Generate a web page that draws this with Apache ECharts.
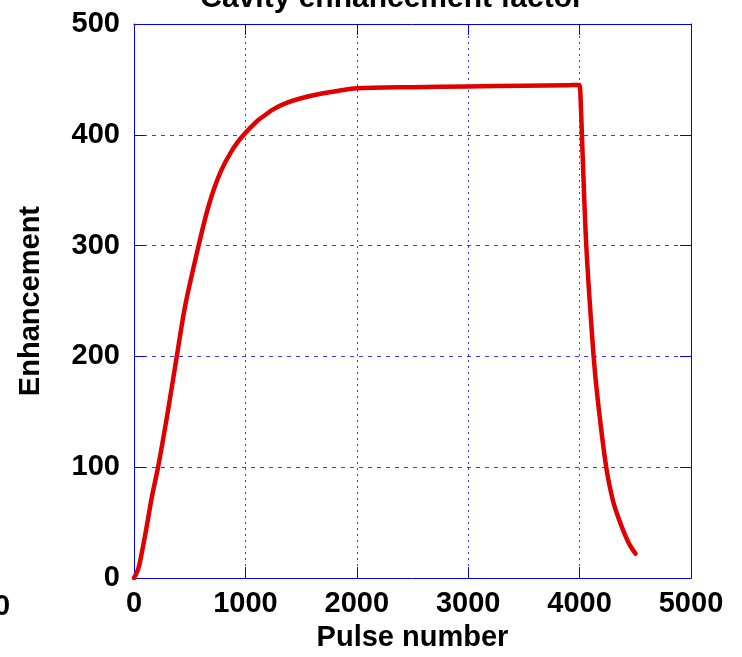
<!DOCTYPE html>
<html>
<head>
<meta charset="utf-8">
<script src="https://cdn.jsdelivr.net/npm/echarts@6/dist/echarts.min.js"></script>
<style>
  html, body { margin: 0; padding: 0; background: #fff; }
  #chart { width: 742px; height: 657px; }
</style>
</head>
<body>
<div id="chart"></div>
<script>
// pulse number vs enhancement
var pulses = [0, 40, 80, 120, 160, 216, 300, 384, 460, 580, 670, 775, 880, 985,
  1100, 1165, 1250, 1375, 1500, 1675, 1850, 2000, 2500, 3000, 3500, 3900, 3990, 4000,
  4010, 4021, 4060, 4126, 4164, 4239, 4299, 4350, 4404, 4450, 4502];
var enhancement = [0, 9, 28, 50, 73, 100, 148, 200, 246, 300, 336, 366, 386, 400,
  412, 417, 423, 429, 433, 437, 440, 442, 443, 443.7, 444.3, 444.8, 445, 445,
  430, 399, 300, 200, 160, 100, 70, 54, 40, 30, 22];

var xTicks = [0, 1000, 2000, 3000, 4000, 5000];
var yTicks = [0, 100, 200, 300, 400, 500];

var font = 'Liberation Sans, Arial, sans-serif';
var blue = '#0000ee';
var gridBlue = '#3a3aff';

var points = [];
for (var i = 0; i < pulses.length; i++) {
  points.push([pulses[i], enhancement[i]]);
}

var chart = echarts.init(document.getElementById('chart'));

function frameAxis(pos, lo, hi, step) {
  return {
    type: 'value', position: pos, min: lo, max: hi, interval: step,
    axisLine: { show: true, onZero: false, lineStyle: { color: blue, width: 1 } },
    axisTick: { show: true, inside: true, length: 11, lineStyle: { color: blue } },
    axisLabel: { show: false },
    splitLine: { show: false }
  };
}

var option = {
  animation: false,
  backgroundColor: '#fff',
  title: {
    text: 'Cavity enhancement factor',
    left: 387, top: -21, textAlign: 'center',
    textStyle: { fontFamily: font, fontWeight: 'bold', fontSize: 30, color: '#000' }
  },
  grid: { left: 134, right: 51, top: 24, bottom: 76 },
  xAxis: [{
    type: 'value', min: xTicks[0], max: xTicks[xTicks.length - 1], interval: 1000,
    name: 'Pulse number', nameLocation: 'middle', nameGap: 42,
    nameTextStyle: { fontFamily: font, fontWeight: 'bold', fontSize: 29, color: '#000' },
    axisLine: { show: true, onZero: false, lineStyle: { color: blue, width: 1 } },
    axisTick: { show: true, inside: true, length: 11, lineStyle: { color: blue } },
    axisLabel: {
      margin: 11, fontFamily: font, fontWeight: 'bold', fontSize: 29, color: '#000',
      formatter: function (v) { return String(v); }
    },
    splitLine: { show: true, lineStyle: { color: gridBlue, width: 1, type: [2, 4] } }
  }, frameAxis('top', 0, 5000, 1000)],
  yAxis: [{
    type: 'value', min: yTicks[0], max: yTicks[yTicks.length - 1], interval: 100,
    name: 'Enhancement', nameLocation: 'middle', nameGap: 89,
    nameTextStyle: { fontFamily: font, fontWeight: 'bold', fontSize: 29, color: '#000' },
    axisLine: { show: true, onZero: false, lineStyle: { color: blue, width: 1 } },
    axisTick: { show: true, inside: true, length: 11, lineStyle: { color: blue } },
    axisLabel: {
      margin: 14, fontFamily: font, fontWeight: 'bold', fontSize: 29, color: '#000',
      formatter: function (v) { return String(v); }
    },
    splitLine: { show: true, lineStyle: { color: gridBlue, width: 1, type: [4, 5] } }
  }, frameAxis('right', 0, 500, 100)],
  graphic: [{
    type: 'text', left: -6, top: 592,
    style: { text: '0', fontFamily: font, fontWeight: 'bold', fontSize: 29, fill: '#000' }
  }],
  series: [{
    type: 'line',
    data: points,
    showSymbol: false,
    smooth: 0.3,
    lineStyle: { color: '#e00000', width: 4.5, join: 'round', cap: 'round' },
    itemStyle: { color: '#e00000' }
  }]
};

chart.setOption(option);
window.addEventListener('resize', function () {
  chart.resize();
});
</script>
</body>
</html>
